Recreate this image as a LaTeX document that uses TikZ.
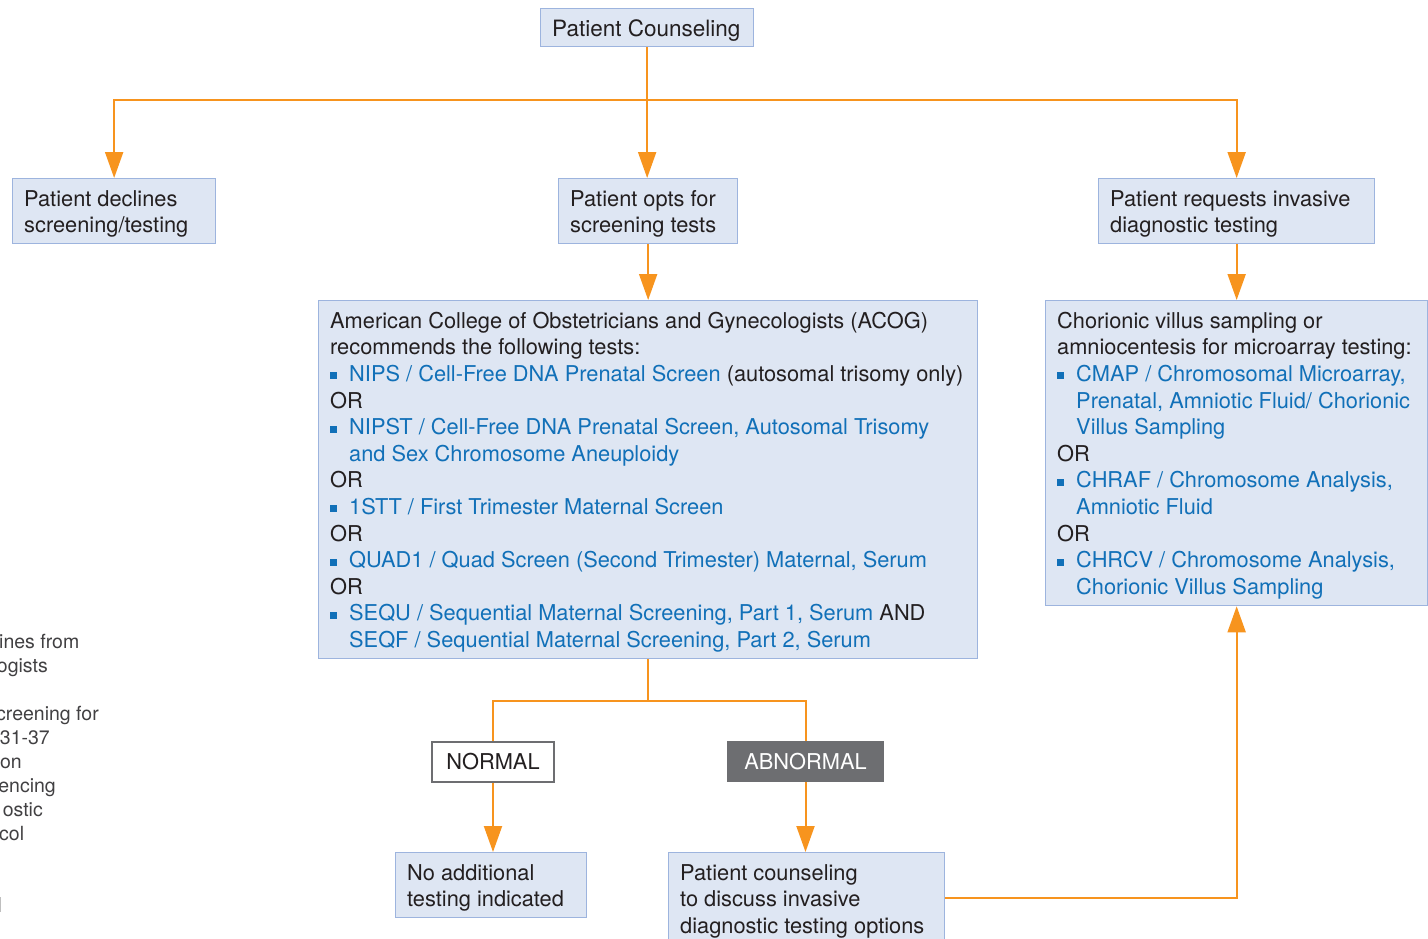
\documentclass[tikz,border=0pt]{standalone}
\usepackage{fontspec}
\setmainfont{TeX Gyre Heros}
\usetikzlibrary{arrows.meta}
\definecolor{boxfill}{HTML}{DEE6F3}
\definecolor{boxline}{HTML}{9DB4DE}
\definecolor{orng}{HTML}{F7941E}
\definecolor{lb}{HTML}{1170B8}
\definecolor{dk}{HTML}{231F20}
\definecolor{gr}{HTML}{6D6E71}
\definecolor{side}{HTML}{414042}
\newcommand\mainsz{\fontsize{21.8}{26.6}\selectfont}
\newcommand\bul{\makebox[19pt][l]{\textcolor{lb}{\raisebox{2pt}{\rule{7pt}{7pt}}}}}
\newcommand\ind{\hspace*{19pt}}
\begin{document}
\begin{tikzpicture}[x=1pt,y=-1pt,
  box/.style={draw=boxline,fill=boxfill,line width=1.3pt,inner sep=0pt,anchor=north west,rectangle},
  txt/.style={inner sep=0pt,anchor=north west,align=left,font=\mainsz,text=dk,xshift=12pt,yshift=-9.4pt},
  conn/.style={draw=orng,line width=2pt},
  arr/.style={conn,-{Triangle[length=26pt,width=18pt]}},
  sidetxt/.style={inner sep=0pt,anchor=base east,font=\fontsize{19.5}{24}\selectfont,text=side}]
\useasboundingbox (0,0) rectangle (1428,938);
\begin{scope}
\clip (0,0) rectangle (1428,938);
% boxes
\node[box,minimum width=213pt,minimum height=38pt] (pc) at (540,8) {};
\node[box,minimum width=203pt,minimum height=65pt] (pd) at (12,178) {};
\node[box,minimum width=179pt,minimum height=65pt] (po) at (558,178) {};
\node[box,minimum width=276pt,minimum height=65pt] (pr) at (1098,178) {};
\node[box,minimum width=659pt,minimum height=358pt] (acog) at (318,300) {};
\node[box,minimum width=382pt,minimum height=305pt] (cvs) at (1045,300) {};
\node[box,minimum width=191pt,minimum height=65pt] (na) at (395,852) {};
\node[box,minimum width=276pt,minimum height=90pt] (pcn) at (668,852) {};
\node[draw=gr,fill=white,line width=2pt,anchor=north west,minimum width=122pt,minimum height=40pt,inner sep=0pt,font=\mainsz,text=dk] (nor) at (431,741) {NORMAL};
\node[draw=gr,fill=gr,line width=1pt,anchor=north west,minimum width=156pt,minimum height=40pt,inner sep=0pt,font=\mainsz,text=white] (abn) at (727,741) {ABNORMAL};
% texts
\node[txt,font=\fontsize{22.5}{26.6}\selectfont] (pc-t) at (pc.north west) {\strut Patient Counseling};
\node[txt] (pd-t) at (pd.north west) {\strut Patient declines\\screening/testing};
\node[txt] (po-t) at (po.north west) {\strut Patient opts for\\screening tests};
\node[txt] (pr-t) at (pr.north west) {\strut Patient requests invasive\\diagnostic testing};
\node[txt] (acog-t) at (acog.north west) {\strut American College of Obstetricians and Gynecologists (ACOG)\\
recommends the following tests:\\
\bul\textcolor{lb}{NIPS / Cell-Free DNA Prenatal Screen} (autosomal trisomy only)\\
OR\\
\bul\textcolor{lb}{NIPST / Cell-Free DNA Prenatal Screen, Autosomal Trisomy}\\
\ind\textcolor{lb}{and Sex Chromosome Aneuploidy}\\
OR\\
\bul\textcolor{lb}{1STT / First Trimester Maternal Screen}\\
OR\\
\bul\textcolor{lb}{QUAD1 / Quad Screen (Second Trimester) Maternal, Serum}\\
OR\\
\bul\textcolor{lb}{SEQU / Sequential Maternal Screening, Part 1, Serum} AND\\
\ind\textcolor{lb}{SEQF / Sequential Maternal Screening, Part 2, Serum}};
\node[txt] (cvs-t) at (cvs.north west) {\strut Chorionic villus sampling or\\
amniocentesis for microarray testing:\\
\bul\textcolor{lb}{CMAP / Chromosomal Microarray,}\\
\ind\textcolor{lb}{Prenatal, Amniotic Fluid/ Chorionic}\\
\ind\textcolor{lb}{Villus Sampling}\\
OR\\
\bul\textcolor{lb}{CHRAF / Chromosome Analysis,}\\
\ind\textcolor{lb}{Amniotic Fluid}\\
OR\\
\bul\textcolor{lb}{CHRCV / Chromosome Analysis,}\\
\ind\textcolor{lb}{Chorionic Villus Sampling}};
\node[txt] (na-t) at (na.north west) {\strut No additional\\testing indicated};
\node[txt] (pcn-t) at (pcn.north west) {\strut Patient counseling\\to discuss invasive\\diagnostic testing options};
% connectors
\draw[conn] (pc.south) -- ++(0,53) coordinate (top);
\draw[arr] (top) -| (pd.north);
\draw[arr] (top) -| (pr.north);
\draw[arr] (top) -- (top |- po.north);
\draw[arr] (po.south) -- (po.south |- acog.north);
\draw[arr] (pr.south) -- (pr.south |- cvs.north);
\draw[conn] (acog.south) -- ++(0,42) coordinate (mid);
\draw[conn] (nor.north) |- (mid) -| (abn.north);
\draw[arr] (nor.south) -- (nor.south |- na.north);
\draw[arr] (abn.south) -- (abn.south |- pcn.north);
\draw[arr] (pcn.east) -| (cvs.south);
% clipped side text
\node[sidetxt,anchor=base west] (s1) at (-1,648) {ines from};
\node[sidetxt] (s2) at (48,672) {ogists};
\node[sidetxt] (s3) at (99,720) {creening for};
\node[sidetxt] (s4) at (50,744) {31-37};
\node[sidetxt] (s5) at (22,768) {on};
\node[sidetxt] (s6) at (56,792) {encing};
\node[sidetxt] (s7) at (43,816) {ostic};
\node[sidetxt,anchor=base west] (s8) at (-1,840) {col};
\draw[draw=gray!50,line width=1pt] (0.5,897) -- (0.5,912);
\end{scope}
\end{tikzpicture}
\end{document}
